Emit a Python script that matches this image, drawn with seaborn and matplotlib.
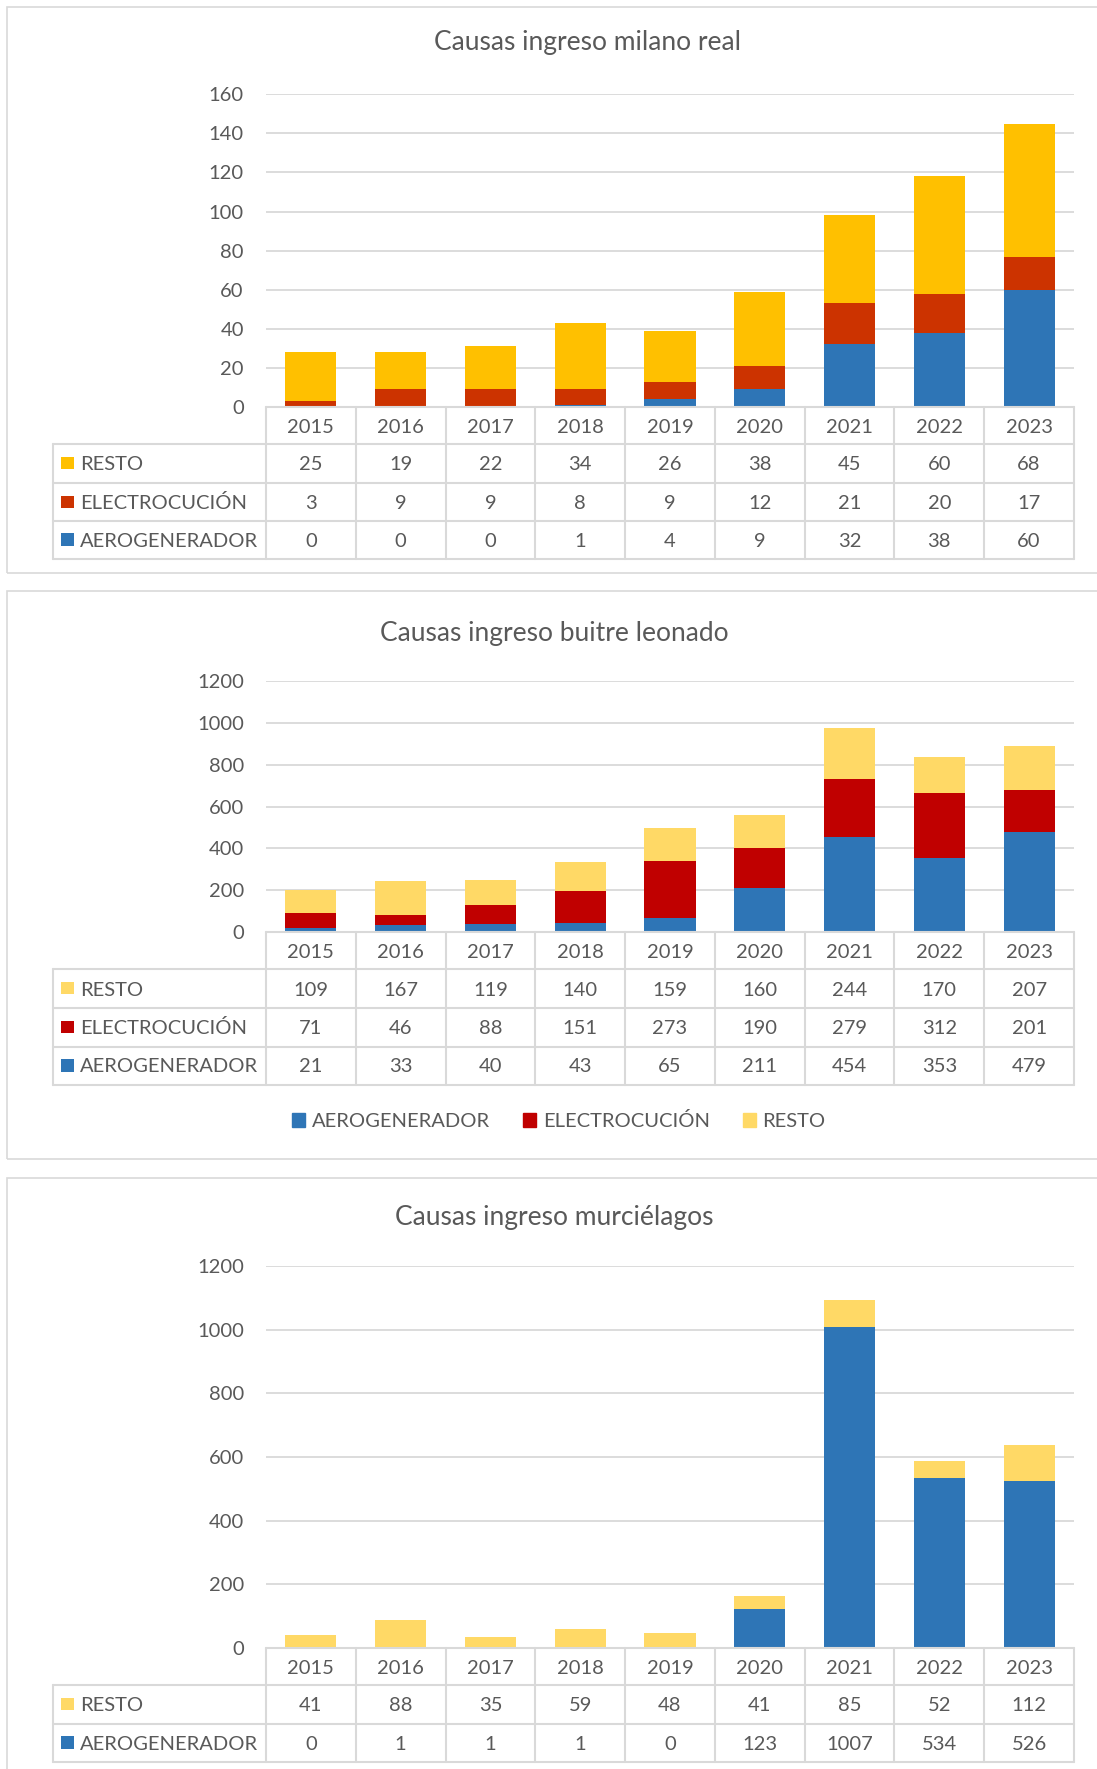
import matplotlib
matplotlib.use('Agg')
import matplotlib.pyplot as plt
import matplotlib.transforms as mtransforms
from matplotlib.patches import Rectangle, Patch
import seaborn as sns

# datos
YEARS = ['2015', '2016', '2017', '2018', '2019', '2020', '2021', '2022', '2023']

MILANO_RESTO = [25, 19, 22, 34, 26, 38, 45, 60, 68]
MILANO_ELECTRO = [3, 9, 9, 8, 9, 12, 21, 20, 17]
MILANO_AERO = [0, 0, 0, 1, 4, 9, 32, 38, 60]

BUITRE_RESTO = [109, 167, 119, 140, 159, 160, 244, 170, 207]
BUITRE_ELECTRO = [71, 46, 88, 151, 273, 190, 279, 312, 201]
BUITRE_AERO = [21, 33, 40, 43, 65, 211, 454, 353, 479]

MURC_RESTO = [41, 88, 35, 59, 48, 41, 85, 52, 112]
MURC_AERO = [0, 1, 1, 1, 0, 123, 1007, 534, 526]

W, H = 1097, 1769
TXT = '#595959'
GRID = '#D9D9D9'
BLUE = '#2E75B6'
ORANGE_RED = '#CC3300'
DARK_RED = '#C00000'
GOLD = '#FFC000'
LIGHT_GOLD = '#FFD966'

FS = 14.5
FS_TITLE = 19

sns.set_theme(style='white')
plt.rcParams['font.family'] = ['Lato', 'DejaVu Sans']

fig = plt.figure(figsize=(W / 100, H / 100), dpi=100)

AX_L, AX_R = 266, 1074
LABEL_L = 52.5


def fx(px):
    return px / W


def fy(py):
    return 1 - py / H


def draw_panel(box, title, title_x, title_y, top_px, zero_px, row_px, ymax, ystep, series):
    # marco del grafico
    x0, y0, x1, y1 = box
    fig.add_artist(Rectangle((fx(x0), fy(y1)), fx(x1 - x0), (y1 - y0) / H,
                             transform=fig.transFigure, fill=False,
                             edgecolor=GRID, linewidth=1.2))

    ax = fig.add_axes([fx(AX_L), fy(zero_px), fx(AX_R - AX_L), (zero_px - top_px) / H])

    # barras apiladas, de abajo hacia arriba
    bottom = [0] * len(YEARS)
    for name, vals, color in series:
        sns.barplot(x=YEARS, y=vals, bottom=bottom, color=color, saturation=1,
                    width=0.57, errorbar=None, linewidth=0, ax=ax)
        bottom = [b + v for b, v in zip(bottom, vals)]

    ax.set_ylim(0, ymax)
    ax.set_xlim(-0.5, len(YEARS) - 0.5)
    ax.set_yticks(range(0, ymax + 1, ystep))
    ax.yaxis.grid(True, color=GRID, linewidth=1.3)
    ax.set_axisbelow(True)
    ax.tick_params(axis='y', length=0, pad=16, labelsize=FS, labelcolor=TXT)
    ax.tick_params(axis='x', bottom=False, labelbottom=False)
    ax.set_xlabel('')
    ax.set_ylabel('')
    for s in ax.spines.values():
        s.set_visible(False)

    fig.text(fx(title_x), fy(title_y + 9), title, ha='center', va='baseline',
             fontsize=FS_TITLE, color=TXT)

    # tabla de datos
    tr = mtransforms.blended_transform_factory(ax.transData, fig.transFigure)
    unit = (AX_R - AX_L) / len(YEARS)
    x_left = -0.5 - (AX_L - LABEL_L) / unit
    n = len(YEARS)
    lk = dict(color=GRID, linewidth=1.5, transform=tr, clip_on=False)
    for i in range(n + 1):
        ax.plot([i - 0.5, i - 0.5], [fy(row_px[0]), fy(row_px[-1])], **lk)
    ax.plot([-0.5, n - 0.5], [fy(row_px[0])] * 2, **lk)
    for yy in row_px[1:]:
        ax.plot([x_left, n - 0.5], [fy(yy)] * 2, **lk)
    ax.plot([x_left, x_left], [fy(row_px[1]), fy(row_px[-1])], **lk)

    cy = (row_px[0] + row_px[1]) / 2
    for i, yr in enumerate(YEARS):
        ax.text(i, fy(cy + 7), yr, transform=tr, ha='center', va='baseline',
                fontsize=FS, color=TXT)

    table_rows = list(reversed(series))
    for r, (name, vals, color) in enumerate(table_rows):
        cy = (row_px[r + 1] + row_px[r + 2]) / 2
        fig.add_artist(Rectangle((fx(61), fy(cy + 6)), fx(12.5), 12.5 / H,
                                 transform=fig.transFigure, color=color, linewidth=0))
        fig.text(fx(80), fy(cy + 7), name, ha='left', va='baseline',
                 fontsize=FS, color=TXT)
        for i, v in enumerate(vals):
            ax.text(i, fy(cy + 7), str(v), transform=tr, ha='center', va='baseline',
                    fontsize=FS, color=TXT)
    return ax


draw_panel((7, 7, 1105, 573), 'Causas ingreso milano real', 587, 41,
           94.3, 407, [407, 444, 483, 521, 559], 160, 20,
           [('AEROGENERADOR', MILANO_AERO, BLUE),
            ('ELECTROCUCIÓN', MILANO_ELECTRO, ORANGE_RED),
            ('RESTO', MILANO_RESTO, GOLD)])

draw_panel((7, 591, 1105, 1158.5), 'Causas ingreso buitre leonado', 554, 631.5,
           681, 932, [932, 969, 1008, 1046.5, 1084.5], 1200, 200,
           [('AEROGENERADOR', BUITRE_AERO, BLUE),
            ('ELECTROCUCIÓN', BUITRE_ELECTRO, DARK_RED),
            ('RESTO', BUITRE_RESTO, LIGHT_GOLD)])

draw_panel((7, 1178, 1105, 1780), 'Causas ingreso murciélagos', 554.5, 1216.5,
           1266, 1648, [1648, 1685, 1723.5, 1761.7], 1200, 200,
           [('AEROGENERADOR', MURC_AERO, BLUE),
            ('RESTO', MURC_RESTO, LIGHT_GOLD)])

# leyenda del grafico del buitre
handles = [Patch(color=BLUE), Patch(color=DARK_RED), Patch(color=LIGHT_GOLD)]
fig.legend(handles, ['AEROGENERADOR', 'ELECTROCUCIÓN', 'RESTO'],
           loc='center', bbox_to_anchor=(fx(559), fy(1121)), ncol=3, frameon=False,
           fontsize=FS, labelcolor=TXT, handlelength=0.65, handleheight=0.65,
           handletextpad=0.32, columnspacing=1.65, borderpad=0)

fig.savefig('out.png', dpi=100)
